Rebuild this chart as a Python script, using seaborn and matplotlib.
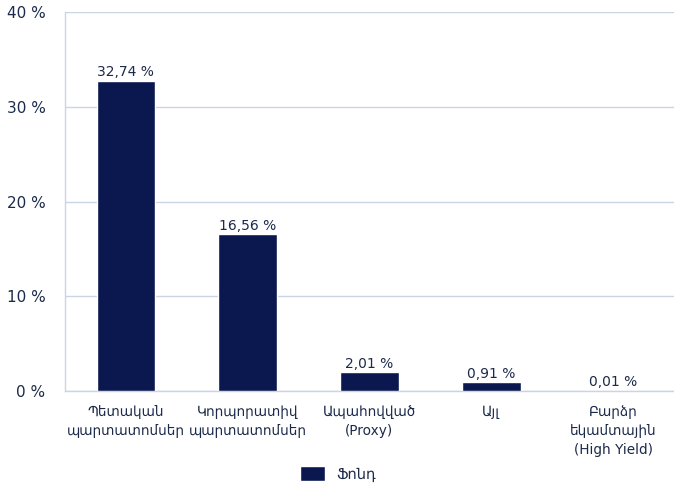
import numpy as np
import pandas as pd
import matplotlib
matplotlib.use("Agg")
import matplotlib.pyplot as plt
import seaborn as sns

categories = [
    "Պետական\nպարտատոմսեր",
    "Կորպորատիվ\nպարտատոմսեր",
    "Ապահովված\n(Proxy)",
    "Այլ",
    "Բարձր\nեկամտային\n(High Yield)",
]
values = [32.74, 16.56, 2.01, 0.91, 0.01]
series_name = "Ֆոնդ"
y_ticks = [0, 10, 20, 30, 40]

BAR = "#0b1850"
TEXT = "#1c2a4a"
GRID = "#c9d5e5"

sns.set_theme(style="white")
plt.rcParams["font.family"] = ["DejaVu Sans"]

df = pd.DataFrame({"category": categories, "value": values})

fig = plt.figure(figsize=(6.74, 4.88), dpi=100)
ax = fig.add_axes([65 / 674, 1 - 391 / 488, (674 - 65) / 674, (391 - 12) / 488])

sns.barplot(data=df, x="category", y="value", color=BAR, width=0.48,
            saturation=1, label=series_name, ax=ax, zorder=3)

for i, v in enumerate(values):
    ax.text(i, v + 0.15, f"{v:.2f}".replace(".", ",") + " %",
            ha="center", va="bottom", fontsize=10, color=TEXT, zorder=4)

ax.set_ylim(0, 40)
ax.set_xlim(-0.5, len(categories) - 0.5)
ax.set_yticks(y_ticks)
ax.set_yticklabels([f"{t} %" for t in y_ticks], fontsize=11, color=TEXT)
ax.yaxis.grid(True, color=GRID, linewidth=1, zorder=0)
ax.tick_params(axis="y", length=0, pad=14)

ax.set_xticks(range(len(categories)))
ax.set_xticklabels(categories, fontsize=9.8, color=TEXT, va="top", linespacing=1.45)
ax.set_xticks(np.arange(-0.5, len(categories), 1), minor=True)
ax.tick_params(axis="x", which="major", length=0, pad=10)
ax.tick_params(axis="x", which="minor", length=8, color=GRID, width=1, direction="out")
ax.set_xlabel("")
ax.set_ylabel("")

for side in ["top", "right"]:
    ax.spines[side].set_visible(False)
for side in ["left", "bottom"]:
    ax.spines[side].set_color(GRID)
    ax.spines[side].set_linewidth(1)

leg = ax.legend(loc="lower center", bbox_to_anchor=(0.448, -0.255), frameon=False,
                fontsize=10.5, handlelength=1.7, handleheight=1.25, borderaxespad=0)
for t in leg.get_texts():
    t.set_color(TEXT)

fig.savefig("out.png", dpi=100)
